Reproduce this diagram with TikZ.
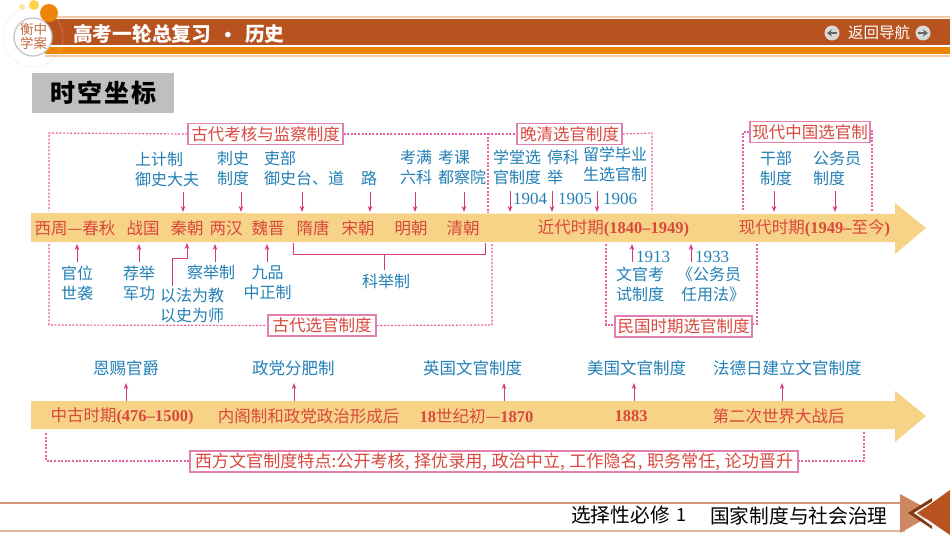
\documentclass[tikz,border=0pt]{standalone}
\usepackage{fontspec}
\setmainfont{Noto Sans CJK SC}
\newfontfamily\ser{Liberation Serif}
\usetikzlibrary{arrows.meta}
\definecolor{hbrown}{HTML}{B85320}
\definecolor{horange}{HTML}{EF8508}
\definecolor{hpeach}{HTML}{F6C9A6}
\definecolor{barc}{HTML}{F6D386}
\definecolor{pinkc}{HTML}{D9357F}
\definecolor{dotc}{HTML}{E8609F}
\definecolor{boxc}{HTML}{E27FAE}
\definecolor{redc}{HTML}{D9483F}
\definecolor{bluec}{HTML}{2280B6}
\tikzset{
  tb/.style={anchor=north west,inner sep=0pt,align=left,text=bluec,font=\fontsize{16}{20}\selectfont},
  tr/.style={anchor=center,inner sep=0pt,text=redc,font=\fontsize{16.5}{20}\selectfont},
  titlebox/.style={draw=boxc,line width=1.2pt,fill=white,inner sep=0pt,text=redc,font=\fontsize{16.5}{20}\selectfont,minimum height=21pt},
  arr/.style={draw=pinkc,line width=1pt,-{Stealth[length=6pt,width=4.5pt]}},
  dots/.style={draw=dotc,line width=1.2pt,dash pattern=on 2pt off 1.6pt},
  brk/.style={draw=pinkc,line width=1pt},
  band/.style={fill=barc,draw=none}
}
\newcommand{\blab}[4]{\node[tb] (#1) at (#2,#3-8) {#4};}
\newcommand{\rlab}[3]{\node[tr] (#1) at (#2,#3) {#1};}
\newcommand{\rlabt}[4]{\node[tr] (#1) at (#2,#3) {#4};}
\newcommand{\rnum}[1]{{\ser\bfseries #1}}
\newcommand{\arrow}[4]{\coordinate (#1-a) at (#2,#3);\coordinate (#1-b) at (#2,#4);\draw[arr] (#1-a) -- (#1-b);}
\begin{document}
\begin{tikzpicture}[x=1pt,y=-1pt]
\useasboundingbox (0,0) rectangle (950,535);
\fill[white] (0,0) rectangle (950,535);
% header
\fill[hpeach] (45,16) rectangle (950,18.5);
\fill[hbrown] (45,19) rectangle (950,45.5);
\fill[horange] (45,47.5) rectangle (950,54.5);
\fill[hpeach] (45,55.5) rectangle (950,57.5);
\draw[hpeach,line width=.5pt,densely dotted] (33,37) circle (30);
\fill[horange] (49,13) circle (9);
\fill[yellow!55!orange!70] (34,5) circle (5);
\fill[yellow!50!orange!35] (22,7) circle (3);
\draw[gray!45,fill=white,line width=1.3pt] (33,37) circle (19);
\node[inner sep=0pt,text=hbrown!85,align=center,font=\fontsize{13.5}{14.5}\selectfont] (logo) at (33.5,36.5) {衡中\\学案};
\node[inner sep=0pt,anchor=west,text=white,font=\fontsize{19.7}{22}\selectfont\bfseries] (h1) at (73,34) {高考一轮总复习};
\node[inner sep=0pt,text=white,font=\fontsize{19.7}{22}\selectfont\bfseries] (h2) at (228,37) {·};
\node[inner sep=0pt,anchor=west,text=white,font=\fontsize{19.7}{22}\selectfont\bfseries] (h3) at (245,34) {历史};
\node[inner sep=0pt,anchor=west,text=white,font=\fontsize{15.5}{18}\selectfont] (nav) at (848,33) {返回导航};
\fill[gray!30] (832,33) circle (7.5);
\fill[gray!30] (923,33) circle (7.5);
\draw[gray!80!black,line width=1.8pt,-{Stealth[length=5pt,width=7pt]}] (837,33) -- (827,33);
\draw[gray!80!black,line width=1.8pt,-{Stealth[length=5pt,width=7pt]}] (918,33) -- (928,33);
% section title
\node[fill=gray!50,minimum width=142pt,minimum height=40pt,inner sep=0pt,anchor=north west,font=\fontsize{25}{28}\selectfont\bfseries] (sec) at (32,73) {时\hspace{2pt}空\hspace{2pt}坐\hspace{2pt}标};
% bands
\path[band] (31,213) -- (895,214) -- (895,203) -- (926,228) -- (895,254) -- (895,242) -- (31,242) -- cycle;
\path[band] (31,401) -- (895,401) -- (895,391) -- (926,416) -- (895,442) -- (895,429) -- (31,429) -- cycle;
% dotted frames
\coordinate (fa) at (49,133); \coordinate (fb) at (49,211); \coordinate (fc) at (49,244); \coordinate (fd) at (49,325);
\coordinate (ff) at (488,133); \coordinate (fg) at (488,213);
\coordinate (fh) at (492,325); \coordinate (fi) at (492,244);
\coordinate (fj) at (652,133); \coordinate (fk) at (652,212);
\coordinate (fl) at (743,132); \coordinate (fm) at (743,211);
\coordinate (fn) at (872,131); \coordinate (fo) at (872,211);
\coordinate (fp) at (606,244); \coordinate (fq) at (606,325);
\coordinate (fr) at (757,244); \coordinate (fs) at (757,324);
\coordinate (ft) at (46,433); \coordinate (fu) at (46,461);
\coordinate (fv) at (864,461); \coordinate (fw) at (864,432);
\node[titlebox,minimum width=155pt] (b1) at (265.5,134) {古代考核与监察制度};
\node[titlebox,minimum width=105pt] (b2) at (569.5,134) {晚清选官制度};
\node[titlebox,minimum width=120pt] (b3) at (810,132) {现代中国选官制};
\node[titlebox,minimum width=108pt] (b4) at (322,325.5) {古代选官制度};
\node[titlebox,minimum width=137pt] (b5) at (683.5,326.5) {民国时期选官制度};
\node[titlebox,minimum width=608pt,font=\fontsize{17.1}{20}\selectfont] (b6) at (494,461.5) {西方文官制度特点:公开考核,\hspace{4.5pt}择优录用,\hspace{4.5pt}政治中立,\hspace{4.5pt}工作隐名,\hspace{4.5pt}职务常任,\hspace{4.5pt}论功晋升};
\draw[dots] (b1.west) -- (fa) -- (fb);
\draw[dots] (fc) -- (fd) -- (b4.west);
\draw[dots] (b1.east) -- (b2.west);
\draw[dots] (ff) -- (fg);
\draw[dots] (b4.east) -- (fh) -- (fi);
\draw[dots] (b2.east) -- (fj) -- (fk);
\draw[dots] (b3.west |- fl) -- (fl) -- (fm);
\draw[dots] (b3.east |- fn) -- (fn) -- (fo);
\draw[dots] (fp) -- (fq) -- (b5.west |- fq);
\draw[dots] (fr) -- (fs) -- (b5.east |- fs);
\draw[dots] (ft) -- (fu) -- (b6.west |- fu);
\draw[dots] (fw) -- (fv) -- (b6.east |- fv);
% upper blue labels
\blab{u1}{135}{160}{上计制\\御史大夫}
\blab{u2}{217}{159}{刺史\\制度}
\blab{u3}{264}{159}{吏部\\御史台、道}
\blab{u4}{361}{179}{路}
\blab{u5}{400}{158}{考满\\六科}
\blab{u6}{438}{158}{考课\\都察院}
\blab{u7}{493}{158}{学堂选\\官制度}
\blab{u8}{547}{158}{停科\\举}
\blab{u9}{583}{155}{留学毕业\\生选官制}
\blab{y4}{513}{200.5}{{\ser\fontsize{17}{20}\selectfont 1904}}
\blab{y5}{558}{200.5}{{\ser\fontsize{17}{20}\selectfont 1905}}
\blab{y6}{603}{200.5}{{\ser\fontsize{17}{20}\selectfont 1906}}
\blab{u10}{760}{159}{干部\\制度}
\blab{u11}{813}{159}{公务员\\制度}
% band labels
\rlab{西周—春秋}{75}{228}
\rlab{战国}{143}{228}
\rlab{秦朝}{187}{228}
\rlab{两汉}{226}{228}
\rlab{魏晋}{268}{228}
\rlab{隋唐}{313}{228}
\rlab{宋朝}{358}{228}
\rlab{明朝}{411}{228}
\rlab{清朝}{463}{228}
\rlabt{jd}{613.5}{228}{近代时期\rnum{(1840–1949)}}
\rlabt{xd}{814.5}{228}{现代时期\rnum{(1949–}至今\rnum{)}}
% lower blue labels
\blab{d1}{61}{274}{官位\\世袭}
\blab{d2}{123}{274}{荐举\\军功}
\blab{d3}{187}{273}{察举制}
\node[tb,align=center,anchor=north] (d4) at (267.5,265) {九品\\中正制};
\blab{d5}{160}{296}{以法为教\\以史为师}
\blab{d6}{362}{282}{科举制}
\blab{y13}{636}{259.5}{{\ser\fontsize{17}{20}\selectfont 1913}}
\blab{y33}{695}{259.5}{{\ser\fontsize{17}{20}\selectfont 1933}}
\blab{d7}{616}{275}{文官考\\试制度}
\blab{d8}{681}{275}{\hspace{-4pt}《公务员\\任用法》}
% arrows down
\arrow{a1}{183}{192}{212}
\arrow{a2}{241}{192}{212}
\arrow{a3}{302}{192}{212}
\arrow{a4}{370}{192}{212}
\arrow{a5}{415}{192}{212}
\arrow{a6}{464}{192}{212}
\arrow{a7}{510}{191}{212}
\arrow{a8}{552}{191}{212}
\arrow{a9}{597}{191}{212}
\arrow{a10}{774}{191}{212}
\arrow{a11}{835}{191}{212}
% arrows up
\arrow{c1}{77}{262}{244}
\arrow{c2}{139}{262}{244}
\arrow{c3}{215}{262}{244}
\arrow{c4}{267}{262}{244}
\arrow{c5}{632}{262}{244}
\arrow{c6}{691}{262}{244}
\coordinate (e1) at (172,286); \coordinate (e2) at (172,258); \coordinate (e3) at (187,258); \coordinate (e4) at (187,243);
\draw[arr] (e1) -- (e2) -- (e3) -- (e4);
% keju bracket
\coordinate (k1) at (293,243); \coordinate (k2) at (293,254); \coordinate (k3) at (485,254); \coordinate (k4) at (485,243);
\coordinate (k5) at (384,254); \coordinate (k6) at (384,270);
\draw[brk] (k1) -- (k2) -- (k3) -- (k4);
\draw[brk] (k5) -- (k6);
% second timeline
\node[tb,text=bluec,font=\fontsize{16.5}{20}\selectfont,anchor=west] (w1) at (93,368) {恩赐官爵};
\node[tb,font=\fontsize{16.5}{20}\selectfont,anchor=west] (w2) at (252,368) {政党分肥制};
\node[tb,font=\fontsize{16.5}{20}\selectfont,anchor=west] (w3) at (423,368) {英国文官制度};
\node[tb,font=\fontsize{16.5}{20}\selectfont,anchor=west] (w4) at (587,368) {美国文官制度};
\node[tb,font=\fontsize{16.5}{20}\selectfont,anchor=west] (w5) at (713,368) {法德日建立文官制度};
\arrow{f1}{126}{401}{383}
\arrow{f2}{294}{401}{383}
\arrow{f3}{504}{401}{383}
\arrow{f4}{634}{401}{383}
\arrow{f5}{782}{401}{383}
\rlabt{m1}{122}{416}{中古时期\rnum{(476–1500)}}
\rlabt{m2}{308.5}{416}{内阁制和政党政治形成后}
\rlabt{m3}{476.5}{416}{\rnum{18}世纪初—\rnum{1870}}
\rlabt{m4}{631}{416}{\rnum{1883}}
\rlabt{m5}{778.5}{416}{第二次世界大战后}
% footer
\draw[draw=hbrown!60,line width=1.2pt] (0,503) -- (905,503);
\draw[draw=hbrown!45,line width=1.2pt] (0,531) -- (905,531);
\node[inner sep=0pt,anchor=west,font=\fontsize{19.7}{22}\selectfont] (ft1) at (571,515.5) {选择性必修};
\node[inner sep=0pt,anchor=west,font=\fontsize{18}{22}\selectfont] (ft2) at (676,515.5) {1};
\node[inner sep=0pt,anchor=west,font=\fontsize{19.7}{22}\selectfont] (ft3) at (710,515.5) {国家制度与社会治理};
\fill[hbrown!70!white] (900,494) -- (900,533) -- (935,513) -- cycle;
\fill[hbrown!70!black] (908,513) -- (932,498) -- (932,502) -- (914,513) -- (932,526) -- (932,529) -- cycle;
\draw[white,line width=1.2pt] (936,500) -- (915,513) -- (936,527);
\fill[hbrown] (918,513) -- (950,490) -- (950,535) -- cycle;
\end{tikzpicture}
\end{document}
